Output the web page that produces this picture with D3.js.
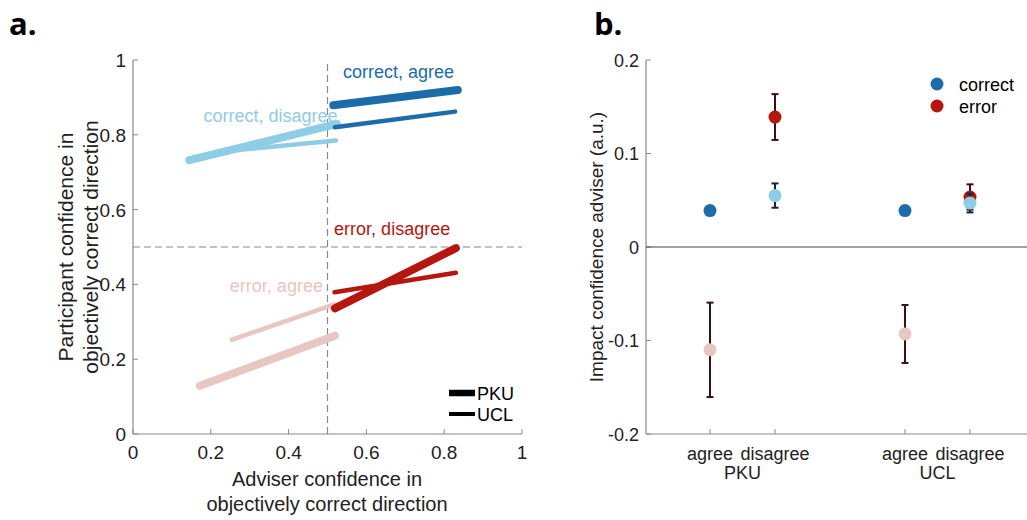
<!DOCTYPE html>
<html><head><meta charset="utf-8">
<script src="https://cdn.jsdelivr.net/npm/d3@7"></script>
<style>
body{margin:0;background:#fff;}
text{font-family:"Liberation Sans",Arial,sans-serif;fill:#222;}
</style></head>
<body><svg id="c" width="1027" height="520"></svg>
<script>
// ---------- Panel a data ----------
const conditions = ["correct, agree", "correct, disagree", "error, agree", "error, disagree"];
const condColors = ["#1b6ca8", "#8ecde6", "#e8c6c2", "#b5170f"];
const pkuX0 = [0.515, 0.145, 0.172, 0.519];
const pkuY0 = [0.879, 0.732, 0.129, 0.336];
const pkuX1 = [0.835, 0.524, 0.519, 0.830];
const pkuY1 = [0.920, 0.829, 0.263, 0.497];
const uclX0 = [0.519, 0.250, 0.254, 0.518];
const uclY0 = [0.820, 0.757, 0.252, 0.379];
const uclX1 = [0.828, 0.522, 0.519, 0.830];
const uclY1 = [0.862, 0.785, 0.347, 0.431];
const ticksA = [0, 0.2, 0.4, 0.6, 0.8, 1];
const tickLabelsA = ["0", "0.2", "0.4", "0.6", "0.8", "1"];

// ---------- Panel b data ----------
const sites = ["PKU", "UCL"];
const adviceTypes = ["agree", "disagree", "agree", "disagree"];
const xPositions = [1, 2, 4, 5];
const correctMean = [0.039, 0.055, 0.039, 0.047];
const correctSE = [0.004, 0.013, 0.004, 0.010];
const errorMean = [-0.110, 0.139, -0.093, 0.0535];
const errorSE = [0.0505, 0.0245, 0.031, 0.0135];
const ticksB = [-0.2, -0.1, 0, 0.1, 0.2];
const tickLabelsB = ["-0.2", "-0.1", "0", "0.1", "0.2"];

const svg = d3.select("#c");

// ================= Panel a =================
const xA = d3.scaleLinear().domain([0, 1]).range([133, 522]);
const yA = d3.scaleLinear().domain([0, 1]).range([434, 60]);
const gA = svg.append("g");

const axA = gA.append("g");
axA.append("line").attr("x1", xA(0)).attr("x2", xA(1)).attr("y1", yA(0)).attr("y2", yA(0)).attr("stroke", "#8a8a8a").attr("stroke-width", 1.2);
axA.append("line").attr("x1", xA(0)).attr("x2", xA(0)).attr("y1", yA(0)).attr("y2", yA(1)).attr("stroke", "#8a8a8a").attr("stroke-width", 1.2);
ticksA.forEach((t, i) => {
  axA.append("line").attr("x1", xA(t)).attr("x2", xA(t)).attr("y1", yA(0)).attr("y2", yA(0) - 5).attr("stroke", "#8a8a8a");
  axA.append("line").attr("x1", xA(0)).attr("x2", xA(0) + 5).attr("y1", yA(t)).attr("y2", yA(t)).attr("stroke", "#8a8a8a");
  axA.append("text").attr("x", xA(t)).attr("y", 459).attr("text-anchor", "middle").attr("font-size", 19).text(tickLabelsA[i]);
  axA.append("text").attr("x", xA(0) - 7).attr("y", yA(t) + 7).attr("text-anchor", "end").attr("font-size", 19).text(tickLabelsA[i]);
});
gA.append("line").attr("x1", xA(0.5)).attr("x2", xA(0.5)).attr("y1", yA(0)).attr("y2", yA(1)).attr("stroke", "#8a8a8a").attr("stroke-width", 1.2).attr("stroke-dasharray", "7,4");
gA.append("line").attr("x1", xA(0)).attr("x2", xA(1)).attr("y1", yA(0.5)).attr("y2", yA(0.5)).attr("stroke", "#8a8a8a").attr("stroke-width", 1.2).attr("stroke-dasharray", "7,4");

const drawOrder = [2, 1, 0, 3];
drawOrder.forEach(i => {
  gA.append("line").attr("x1", xA(pkuX0[i])).attr("y1", yA(pkuY0[i])).attr("x2", xA(pkuX1[i])).attr("y2", yA(pkuY1[i]))
    .attr("stroke", condColors[i]).attr("stroke-width", 8).attr("stroke-linecap", "round");
  gA.append("line").attr("x1", xA(uclX0[i])).attr("y1", yA(uclY0[i])).attr("x2", xA(uclX1[i])).attr("y2", yA(uclY1[i]))
    .attr("stroke", condColors[i]).attr("stroke-width", 4.5).attr("stroke-linecap", "round");
});

const labelPos = [[0.54, 0.952], [0.181, 0.833], [0.249, 0.381], [0.517, 0.532]];
conditions.forEach((c, i) => {
  gA.append("text").attr("x", xA(labelPos[i][0])).attr("y", yA(labelPos[i][1])).attr("font-size", 18)
    .style("fill", condColors[i]).text(c);
});

[["PKU", 6.5, 393], ["UCL", 4, 414]].forEach(([lab, w, y]) => {
  gA.append("line").attr("x1", 449).attr("x2", 475).attr("y1", y).attr("y2", y).attr("stroke", "#000").attr("stroke-width", w);
  gA.append("text").attr("x", 477).attr("y", y + 6.5).attr("font-size", 18).style("fill", "#000").text(lab);
});

gA.append("text").attr("x", 327).attr("y", 486).attr("text-anchor", "middle").attr("font-size", 20).text("Adviser confidence in");
gA.append("text").attr("x", 327).attr("y", 511).attr("text-anchor", "middle").attr("font-size", 20).text("objectively correct direction");
gA.append("text").attr("transform", "translate(73,247) rotate(-90)").attr("text-anchor", "middle").attr("font-size", 21).text("Participant confidence in");
gA.append("text").attr("transform", "translate(98,247) rotate(-90)").attr("text-anchor", "middle").attr("font-size", 21).text("objectively correct direction");

svg.append("text").attr("x", 9).attr("y", 35).attr("font-size", 31).attr("font-weight", "bold").style("font-family", "'Open Sans',sans-serif").style("fill", "#000").text("a.");

// ================= Panel b =================
const xB = d3.scaleLinear().domain([0, 6]).range([645, 1035]);
const yB = d3.scaleLinear().domain([-0.2, 0.2]).range([434, 60]);
const gB = svg.append("g");

gB.append("line").attr("x1", 646).attr("x2", 1027).attr("y1", yB(-0.2)).attr("y2", yB(-0.2)).attr("stroke", "#8a8a8a").attr("stroke-width", 1.2);
gB.append("line").attr("x1", 646).attr("x2", 646).attr("y1", yB(-0.2)).attr("y2", yB(0.2)).attr("stroke", "#8a8a8a").attr("stroke-width", 1.2);
ticksB.forEach((t, i) => {
  gB.append("line").attr("x1", 646).attr("x2", 651).attr("y1", yB(t)).attr("y2", yB(t)).attr("stroke", "#8a8a8a");
  gB.append("text").attr("x", 639).attr("y", yB(t) + 6.5).attr("text-anchor", "end").attr("font-size", 18).text(tickLabelsB[i]);
});
xPositions.forEach((p, i) => {
  gB.append("line").attr("x1", xB(p)).attr("x2", xB(p)).attr("y1", yB(-0.2)).attr("y2", yB(-0.2) - 5).attr("stroke", "#8a8a8a");
  gB.append("text").attr("x", xB(p)).attr("y", 460).attr("text-anchor", "middle").attr("font-size", 18).text(adviceTypes[i]);
});
sites.forEach((s, k) => {
  const mid = (xPositions[2 * k] + xPositions[2 * k + 1]) / 2;
  gB.append("text").attr("x", xB(mid)).attr("y", 479).attr("text-anchor", "middle").attr("font-size", 18).text(s);
});
gB.append("line").attr("x1", 646).attr("x2", 1027).attr("y1", yB(0)).attr("y2", yB(0)).attr("stroke", "#444").attr("stroke-width", 1.2);

function drawSeries(means, ses, colors, barColor) {
  means.forEach((m, i) => {
    const x = xB(xPositions[i]);
    const gg = gB.append("g");
    gg.append("line").attr("x1", x).attr("x2", x).attr("y1", yB(m - ses[i])).attr("y2", yB(m + ses[i])).attr("stroke", barColor).attr("stroke-width", 2);
    [m - ses[i], m + ses[i]].forEach(v => gg.append("line").attr("x1", x - 3.5).attr("x2", x + 3.5).attr("y1", yB(v)).attr("y2", yB(v)).attr("stroke", barColor).attr("stroke-width", 2));
    gg.append("circle").attr("cx", x).attr("cy", yB(m)).attr("r", 6.5).attr("fill", colors[i % 2]);
  });
}
drawSeries(errorMean, errorSE, [condColors[2], condColors[3]], "#3a1010");
drawSeries(correctMean, correctSE, [condColors[0], condColors[1]], "#13263a");

[["correct", condColors[0], 84], ["error", condColors[3], 106]].forEach(([lab, col, y]) => {
  gB.append("circle").attr("cx", 937).attr("cy", y).attr("r", 6.5).attr("fill", col);
  gB.append("text").attr("x", 959).attr("y", y + 6.5).attr("font-size", 18).style("fill", "#000").text(lab);
});

gB.append("text").attr("transform", "translate(603,247) rotate(-90)").attr("text-anchor", "middle").attr("font-size", 19).text("Impact confidence adviser (a.u.)");
svg.append("text").attr("x", 594).attr("y", 35).attr("font-size", 31).attr("font-weight", "bold").style("font-family", "'Open Sans',sans-serif").style("fill", "#000").text("b.");
</script></body></html>
